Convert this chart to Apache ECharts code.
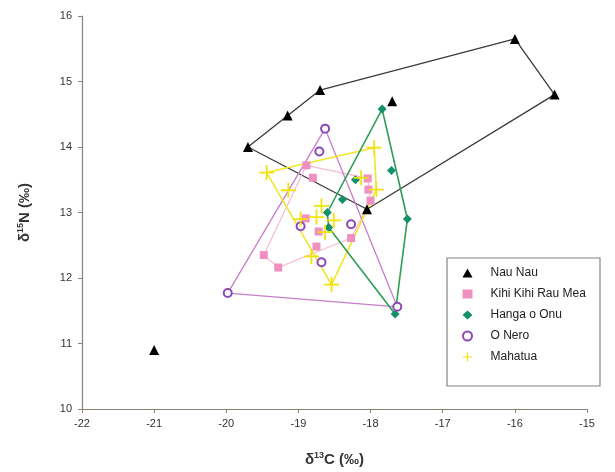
<!DOCTYPE html>
<html>
<head>
<meta charset="utf-8">
<script src="https://cdn.jsdelivr.net/npm/echarts@6/dist/echarts.min.js"></script>
<style>
  html, body { margin: 0; padding: 0; background: #fff; }
  #chart { width: 615px; height: 472px; }
</style>
</head>
<body>
<div id="chart"></div>
<script>
// δ13C / δ15N isotope values per site: [δ13C, δ15N]
const nauNau = [[-19.7, 14.0], [-19.15, 14.48], [-18.7, 14.87], [-17.7, 14.7], [-16.0, 15.65], [-15.45, 14.8], [-18.05, 13.05], [-21.0, 10.9]];
const kihiKihi = [[-18.89, 13.72], [-18.8, 13.53], [-18.04, 13.52], [-18.03, 13.35], [-18.0, 13.18], [-18.9, 12.91], [-18.72, 12.71], [-18.75, 12.48], [-18.27, 12.61], [-19.48, 12.35], [-19.28, 12.16]];
const hangaOnu = [[-17.84, 14.58], [-17.71, 13.64], [-18.21, 13.5], [-18.39, 13.2], [-18.6, 13.0], [-18.58, 12.77], [-17.49, 12.9], [-17.66, 11.45]];
const oNero = [[-18.63, 14.28], [-18.71, 13.93], [-18.97, 12.79], [-18.27, 12.82], [-18.68, 12.24], [-19.98, 11.77], [-17.63, 11.56]];
const mahatua = [[-17.95, 13.99], [-17.92, 13.35], [-18.13, 13.53], [-19.44, 13.61], [-19.14, 13.34], [-18.68, 13.1], [-18.97, 12.9], [-18.75, 12.93], [-18.51, 12.88], [-18.63, 12.7], [-18.82, 12.33], [-18.54, 11.9]];

// Outline (hull) vertex order for each group, as indices into the arrays above
const nauNauHull = [0, 2, 4, 5, 6, 0];
const kihiKihiHull = [0, 2, 4, 8, 10, 9, 0];
const hangaOnuHull = [0, 6, 7, 5, 4, 0];
const oNeroHull = [0, 6, 5, 0];
const mahatuaHull = [3, 0, 1, 11, 3];

const xTicks = ['-22', '-21', '-20', '-19', '-18', '-17', '-16', '-15'];
const yTicks = ['10', '11', '12', '13', '14', '15', '16'];

const crossPath = 'path://M4.4,0 H5.6 V4.4 H10 V5.6 H5.6 V10 H4.4 V5.6 H0 V4.4 H4.4 Z';

function hullLine(points, order, color, width) {
  return {
    type: 'line',
    data: order.map(i => points[i]),
    symbol: 'none',
    silent: true,
    z: 1,
    lineStyle: { color: color, width: width },
    legendHoverLink: false
  };
}

const chart = echarts.init(document.getElementById('chart'), null, { renderer: 'canvas' });

chart.setOption({
  animation: false,
  backgroundColor: '#ffffff',
  textStyle: { fontFamily: 'Liberation Sans, Arial, sans-serif' },
  grid: { left: 82, right: 28, top: 16, bottom: 62 },
  xAxis: {
    type: 'value',
    min: -22, max: -15, interval: 1,
    name: 'δ{sup|13}C (‰)',
    nameLocation: 'middle',
    nameGap: 42,
    nameTextStyle: {
      fontSize: 15, fontWeight: 'bold', color: '#333',
      rich: { sup: { fontSize: 9, fontWeight: 'bold', color: '#333', verticalAlign: 'top', padding: [0, 0, 8, 0] } }
    },
    axisLine: { lineStyle: { color: '#8a8278', width: 1.2 } },
    axisTick: { show: true, length: 4, lineStyle: { color: '#8a8278' } },
    axisLabel: { color: '#333', fontSize: 11, margin: 9, formatter: v => xTicks[v + 22] },
    splitLine: { show: false }
  },
  yAxis: {
    type: 'value',
    min: 10, max: 16, interval: 1,
    name: 'δ{sup|15}N (‰)',
    nameLocation: 'middle',
    nameGap: 49,
    nameTextStyle: {
      fontSize: 15, fontWeight: 'bold', color: '#333',
      rich: { sup: { fontSize: 9, fontWeight: 'bold', color: '#333', verticalAlign: 'top', padding: [0, 0, 8, 0] } }
    },
    axisLine: { show: true, lineStyle: { color: '#8a8278', width: 1.2 } },
    axisTick: { show: true, length: 4, lineStyle: { color: '#8a8278' } },
    axisLabel: { color: '#333', fontSize: 11, margin: 10, formatter: v => yTicks[v - 10] },
    splitLine: { show: false }
  },
  graphic: [{
    type: 'rect',
    shape: { x: 447, y: 258, width: 153, height: 128 },
    style: { fill: '#fff', stroke: '#8a8278', lineWidth: 1.2 },
    z: 5
  }],
  legend: {
    orient: 'vertical',
    left: 457,
    top: 262,
    itemWidth: 10,
    itemHeight: 9,
    itemGap: 9,
    z: 10,
    textStyle: { fontSize: 12, color: '#222', lineHeight: 12, padding: [0, 0, 0, 13] },
    data: ['Nau Nau', 'Kihi Kihi Rau Mea', 'Hanga o Onu', 'O Nero', 'Mahatua']
  },
  series: [
    hullLine(nauNau, nauNauHull, '#3a3a3a', 1.3),
    hullLine(kihiKihi, kihiKihiHull, '#f5b8d6', 1.2),
    hullLine(oNero, oNeroHull, '#c77ec8', 1.3),
    hullLine(mahatua, mahatuaHull, '#f2e62a', 1.6),
    hullLine(hangaOnu, hangaOnuHull, '#2f9e55', 1.6),
    {
      name: 'Nau Nau', type: 'scatter', data: nauNau,
      symbol: 'triangle', symbolSize: 10, z: 3,
      itemStyle: { color: '#000', opacity: 1 }
    },
    {
      name: 'Kihi Kihi Rau Mea', type: 'scatter', data: kihiKihi,
      symbol: 'rect', symbolSize: 8, z: 3,
      itemStyle: { color: '#f090c0', opacity: 1 }
    },
    {
      name: 'Hanga o Onu', type: 'scatter', data: hangaOnu,
      symbol: 'diamond', symbolSize: 9, z: 3,
      itemStyle: { color: '#12906a', opacity: 1 }
    },
    {
      name: 'O Nero', type: 'scatter', data: oNero,
      symbol: 'emptyCircle', symbolSize: 8, z: 3,
      itemStyle: { color: '#8a48b8', borderWidth: 1.3, opacity: 1 }
    },
    {
      name: 'Mahatua', type: 'scatter', data: mahatua,
      symbol: crossPath, symbolSize: 15, z: 3,
      itemStyle: { color: '#f2e20a', opacity: 1 }
    }
  ]
});
</script>
</body>
</html>
